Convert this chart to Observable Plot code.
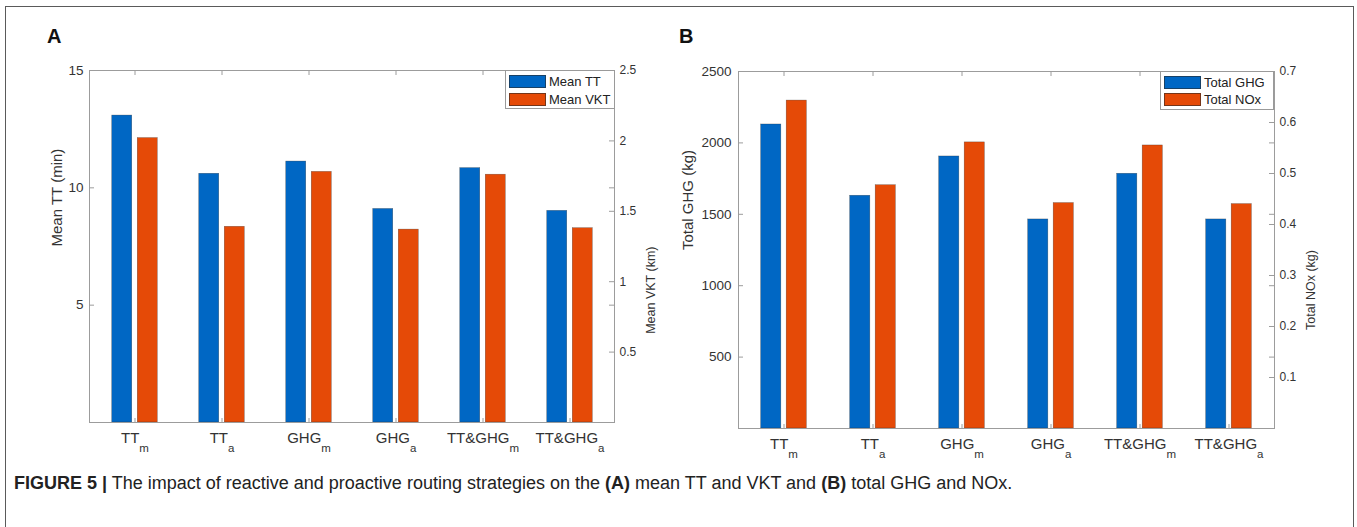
<!DOCTYPE html>
<html>
<head>
<meta charset="utf-8">
<script src="https://cdn.jsdelivr.net/npm/d3@7"></script>
<script src="https://cdn.jsdelivr.net/npm/@observablehq/plot@0.6"></script>
<style>
  body { margin: 0; background: #fff; font-family: "Liberation Sans", Arial, sans-serif; }
  #wrap { position: relative; width: 1357px; height: 527px; overflow: hidden; background: #fff; }
  #frame { position: absolute; left: 5px; top: 6px; width: 1349px; height: 560px; border: 1px solid #5a5a5a; box-sizing: border-box; }
  .panel { position: absolute; top: 0; }
  #pa { left: 0; }
  #pb { left: 660px; }
  .plabel { position: absolute; font-weight: bold; font-size: 20px; line-height: 1; color: #111; }
  .legend { position: absolute; border: 1px solid #9a9a9a; background: #fff; box-sizing: border-box; }
  .legend .row { position: absolute; left: 0; height: 14px; font-size: 13px; line-height: 14px; color: #222; white-space: nowrap; }
  .legend .sw { position: absolute; left: 3px; top: 0; width: 37px; height: 13px; box-sizing: border-box; border: 0.5px solid rgba(40,40,40,0.6); }
  .legend .tx { position: absolute; left: 43px; top: 0; }
  #caption { position: absolute; left: 14px; top: 473px; font-size: 18px; line-height: 20px; color: #222; white-space: nowrap; }
</style>
</head>
<body>
<div id="wrap">
  <div id="frame"></div>
  <div id="pa" class="panel"></div>
  <div id="pb" class="panel"></div>
  <div class="plabel" style="left:47px;top:26px;">A</div>
  <div class="plabel" style="left:679px;top:26px;">B</div>
  <div class="legend" id="lega" style="left:505px;top:70px;width:110px;height:39px;">
    <div class="row" style="top:4px;"><div class="sw" style="background:#0067c4"></div><span class="tx">Mean TT</span></div>
    <div class="row" style="top:22px;"><div class="sw" style="background:#e54a07"></div><span class="tx">Mean VKT</span></div>
  </div>
  <div class="legend" id="legb" style="left:1160px;top:71px;width:114px;height:39px;">
    <div class="row" style="top:4px;"><div class="sw" style="background:#0067c4"></div><span class="tx">Total GHG</span></div>
    <div class="row" style="top:21px;"><div class="sw" style="background:#e54a07"></div><span class="tx">Total NOx</span></div>
  </div>
  <div id="caption"><b>FIGURE 5 |</b> The impact of reactive and proactive routing strategies on the <b>(A)</b> mean TT and VKT and <b>(B)</b> total GHG and NOx.</div>
</div>
<script>
// ---- data ----
const categories = ["TT_m", "TT_a", "GHG_m", "GHG_a", "TT&GHG_m", "TT&GHG_a"];
const meanTT = [13.08, 10.6, 11.12, 9.1, 10.84, 9.02];        // min
const meanVKT = [2.02, 1.39, 1.78, 1.37, 1.76, 1.38];         // km
const totalGHG = [2129, 1630, 1905, 1464, 1784, 1464];        // kg
const totalNOx = [0.643, 0.477, 0.561, 0.442, 0.555, 0.440];  // kg

const ttTicks = [5, 10, 15];
const vktTicks = [0.5, 1, 1.5, 2, 2.5];
const ghgTicks = [500, 1000, 1500, 2000, 2500];
const noxTicks = [0.1, 0.2, 0.3, 0.4, 0.5, 0.6, 0.7];

const BLUE = "#0067c4";
const RED = "#e54a07";
const AXIS = "#9c9c9c";

function panel(cfg) {
  const W = 660, H = 470;
  const pw = W - cfg.ml - cfg.mr, ph = H - cfg.mt - cfg.mb;
  const bw = pw / categories.length;
  const half = bw / 2, barW = 20.5, gap = 2.5;
  const k = cfg.leftMax / cfg.rightMax;
  const rows = categories.map((c, i) => ({cat: c, left: cfg.left[i], right: cfg.right[i]}));
  const barStyle = {stroke: "#2a2a2a", strokeWidth: 0.5, strokeOpacity: 0.55};
  const fmt = d => String(+(d / k).toFixed(3));
  const svg = Plot.plot({
    width: W, height: H,
    marginLeft: cfg.ml, marginRight: cfg.mr, marginTop: cfg.mt, marginBottom: cfg.mb,
    style: {fontFamily: '"Liberation Sans", Arial, sans-serif', color: "#333", background: "transparent", overflow: "visible"},
    x: {domain: categories, padding: 0, axis: null},
    y: {domain: [0, cfg.leftMax], axis: null},
    marks: [
      Plot.barY(rows, {x: "cat", y: "left", fill: BLUE, insetLeft: half - barW - gap, insetRight: half + gap, ...barStyle}),
      Plot.barY(rows, {x: "cat", y: d => d.right * k, fill: RED, insetLeft: half + gap, insetRight: half - barW - gap, ...barStyle}),
      Plot.frame({stroke: AXIS, strokeWidth: 1}),
      // category ticks (top pointing down, bottom pointing up)
      Plot.tickX(categories, {x: d => d, stroke: AXIS, insetBottom: ph - 5}),
      Plot.tickX(categories, {x: d => d, stroke: AXIS, insetTop: ph - 4}),
      // left ticks inward
      Plot.tickY(cfg.leftTicks, {y: d => d, stroke: AXIS, insetRight: pw - 5}),
      // right ticks inward (right axis + mirrored left)
      Plot.tickY(cfg.rightTicks.map(v => v * k), {y: d => d, stroke: AXIS, insetLeft: pw - 5}),
      Plot.tickY(cfg.leftTicks, {y: d => d, stroke: AXIS, insetLeft: pw - 5}),
      Plot.axisY({anchor: "left", ticks: cfg.leftTicks, tickFormat: d => String(d), tickSize: 0, tickPadding: cfg.lpad, label: null, fontSize: 13.5}),
      Plot.axisY({anchor: "right", ticks: cfg.rightTicks.map(v => v * k), tickFormat: fmt, tickSize: 0, tickPadding: 5, label: null, fontSize: 12}),
      Plot.axisX({anchor: "bottom", tickSize: 0, tickPadding: 10, label: null, fontSize: 15, tickFormat: d => d}),
      Plot.text([cfg.leftLabel], {frameAnchor: "left", rotate: -90, dx: cfg.ldx, text: d => d, fontSize: 15, fill: "#333"}),
      Plot.text([cfg.rightLabel], {frameAnchor: "right", rotate: -90, dx: 36, text: d => d, fontSize: 12.5, fill: "#333"})
    ]
  });
  // subscripts on category labels
  svg.querySelectorAll('g[aria-label="x-axis tick label"] text').forEach(t => {
    const [main, sub] = t.textContent.split("_");
    t.textContent = "";
    const a = document.createElementNS("http://www.w3.org/2000/svg", "tspan");
    a.textContent = main;
    t.appendChild(a);
    const b = document.createElementNS("http://www.w3.org/2000/svg", "tspan");
    b.textContent = sub;
    b.setAttribute("dy", "9");
    b.setAttribute("font-size", "11.5");
    t.appendChild(b);
  });
  document.getElementById(cfg.el).appendChild(svg);
}

panel({
  el: "pa", left: meanTT, right: meanVKT, leftMax: 15, rightMax: 2.5,
  leftTicks: ttTicks, rightTicks: vktTicks,
  leftLabel: "Mean TT (min)", rightLabel: "Mean VKT (km)",
  ml: 89, mr: 46, mt: 70, mb: 48, lpad: 6, ldx: -32
});
panel({
  el: "pb", left: totalGHG, right: totalNOx, leftMax: 2500, rightMax: 0.7,
  leftTicks: ghgTicks, rightTicks: noxTicks,
  leftLabel: "Total GHG (kg)", rightLabel: "Total NOx (kg)",
  ml: 78, mr: 46, mt: 71, mb: 42, lpad: 7, ldx: -50
});
</script>
</body>
</html>
